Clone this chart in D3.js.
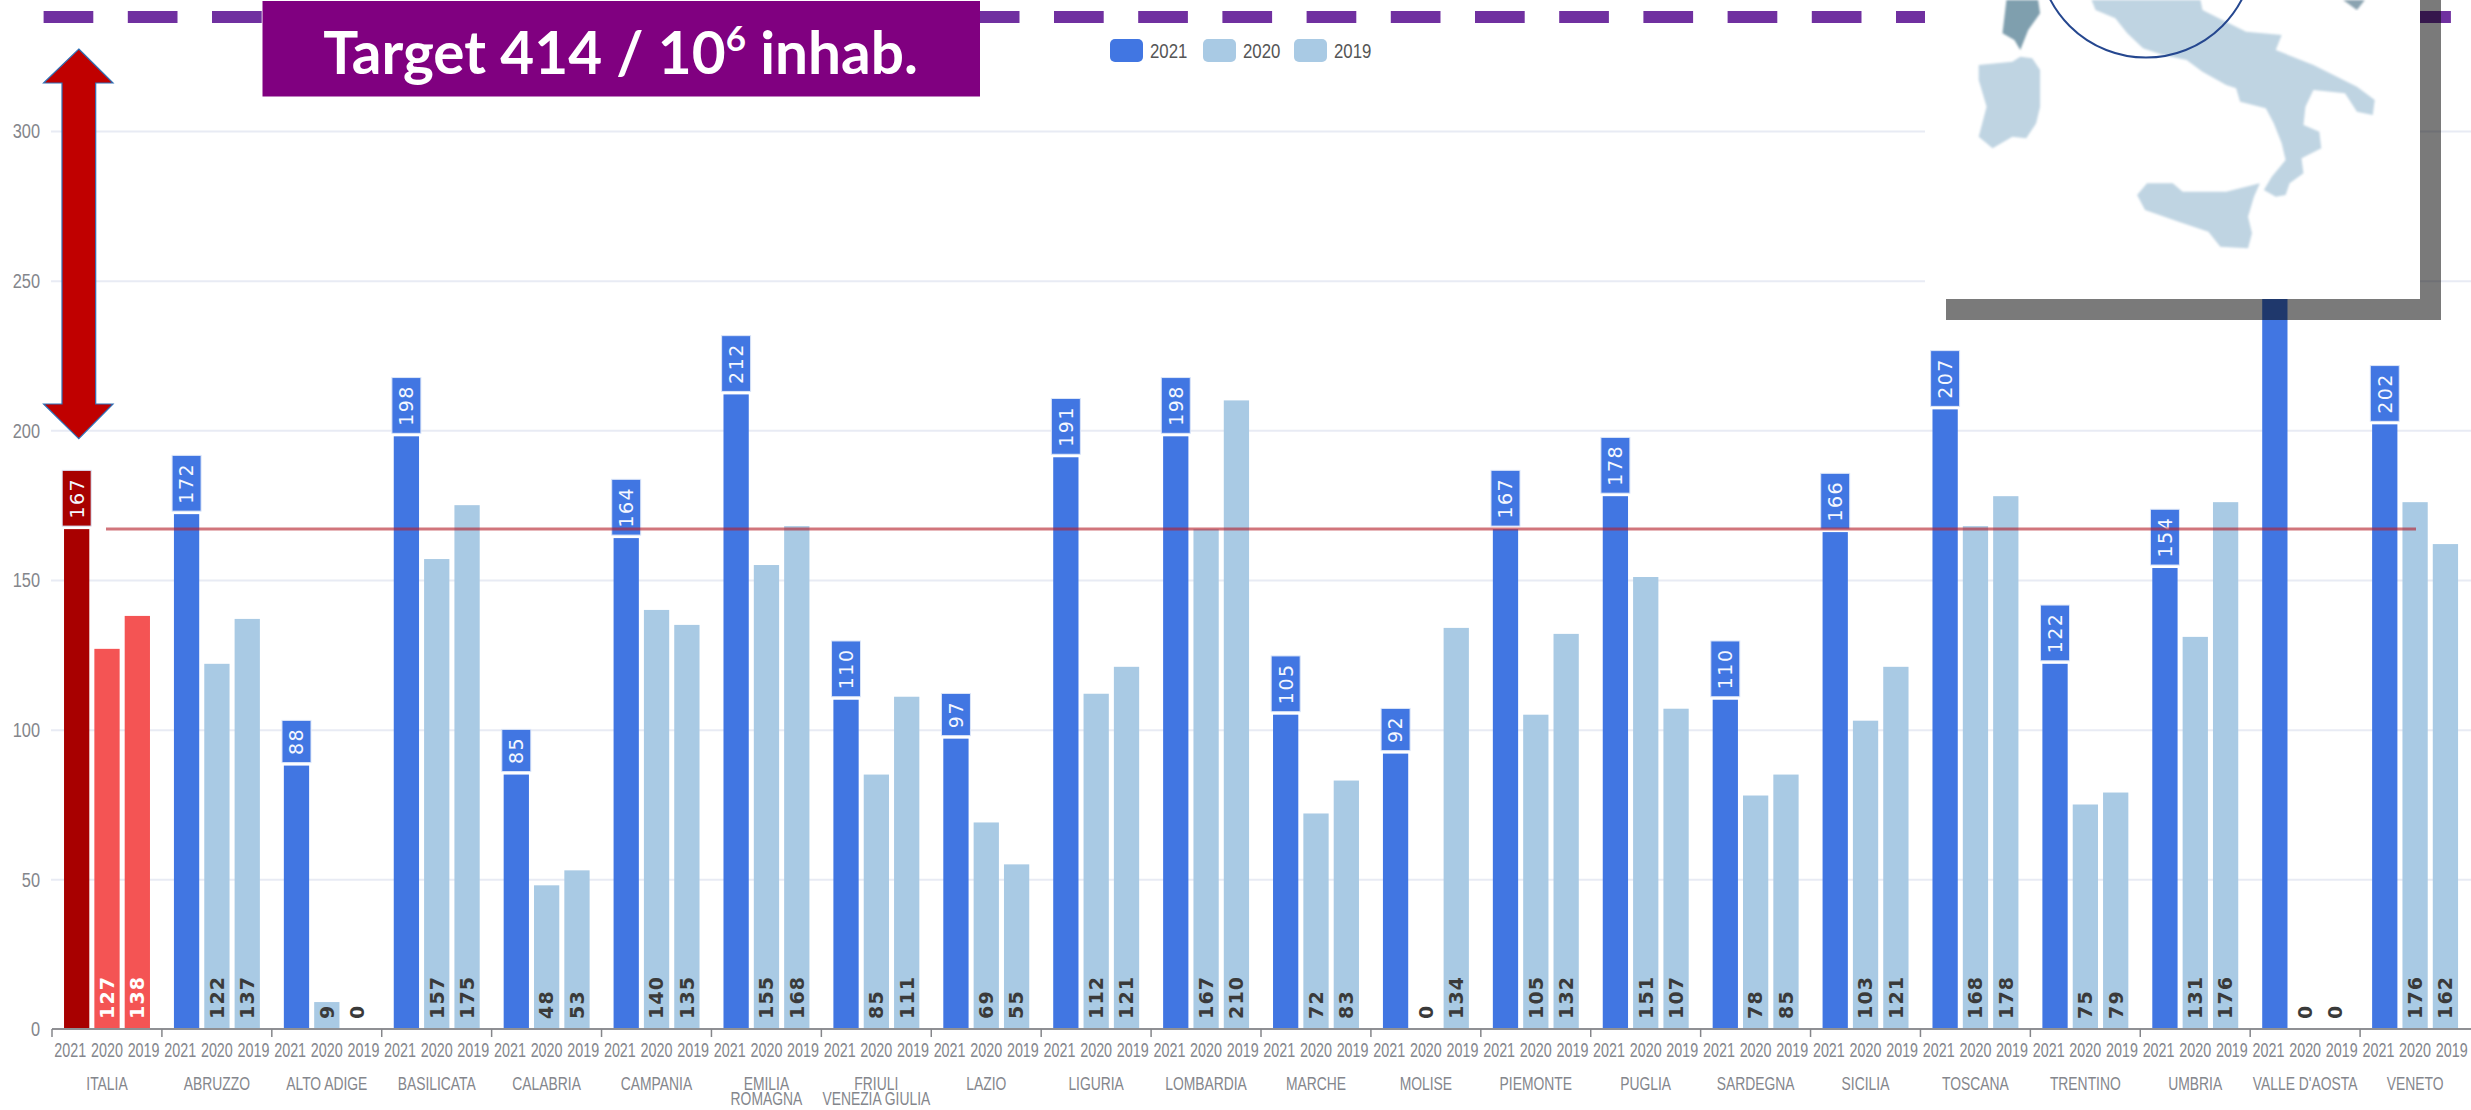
<!DOCTYPE html>
<html><head><meta charset="utf-8">
<script src="https://cdnjs.cloudflare.com/ajax/libs/d3/7.8.5/d3.min.js"></script>
<style>html,body{margin:0;padding:0;background:#fff;overflow:hidden}svg{display:block}</style>
</head><body><svg id="c" width="2471" height="1110"></svg>
<script>
const regions = ["ITALIA","ABRUZZO","ALTO ADIGE","BASILICATA","CALABRIA","CAMPANIA","EMILIA\nROMAGNA","FRIULI\nVENEZIA GIULIA","LAZIO","LIGURIA","LOMBARDIA","MARCHE","MOLISE","PIEMONTE","PUGLIA","SARDEGNA","SICILIA","TOSCANA","TRENTINO","UMBRIA","VALLE D'AOSTA","VENETO"];
const years = ["2021","2020","2019"];
const values2021 = [167,172,88,198,85,164,212,110,97,191,198,105,92,167,178,110,166,207,122,154,260,202];
const values2020 = [127,122,9,157,48,140,155,85,69,112,167,72,0,105,151,78,103,168,75,131,0,176];
const values2019 = [138,137,0,175,53,135,168,111,55,121,210,83,134,132,107,85,121,178,79,176,0,162];
const yTicks = [0,50,100,150,200,250,300];
const italyMean = 167;
const targetLabel = "Target 414 / 10";

// Inset map outlines, in the inset's own picture units
const peninsula = [[610,0],[620,30],[670,55],[700,100],[740,145],[790,165],[850,180],[890,215],[950,255],[975,265],[985,305],[1050,325],[1070,370],[1090,430],[1100,480],[1065,530],[1045,570],[1075,590],[1100,585],[1110,550],[1145,520],[1140,475],[1190,445],[1185,395],[1145,375],[1150,320],[1170,270],[1250,280],[1280,335],[1320,345],[1325,300],[1280,260],[1170,195],[1075,150],[1090,105],[1000,95],[940,60],[890,30],[885,0]];
const sicily = [[725,585],[750,550],[815,550],[840,575],[950,575],[1035,550],[1020,590],[1005,650],[1015,700],[1005,745],[935,740],[905,695],[830,665],[745,630]];
const sardinia = [[325,195],[410,185],[430,170],[460,175],[480,210],[480,320],[470,370],[445,415],[410,410],[360,445],[325,410],[345,320],[325,240]];
const corsica = [[395,0],[475,0],[480,40],[450,90],[430,150],[415,120],[385,100],[390,50]];
const islet = [[1245,0],[1300,0],[1280,30]];

const svg = d3.select("#c");
const axisFont = "'Liberation Sans',sans-serif";
const grey = "#84868c";

const y = d3.scaleLinear().domain([0,300]).range([1029,131]);
const xGroup = d3.scaleBand().domain(regions).range([52,2470]);
const xBar = d3.scaleBand().domain(years).range([9.5,100.5]).paddingInner(1/6).paddingOuter(1/12);
const xTick = d3.scaleBand().domain(regions.flatMap(r=>years.map(t=>r+"|"+t))).range([52,2470]);
const seriesVals = {"2021":values2021,"2020":values2020,"2019":values2019};
const rows = regions.flatMap((r,i)=>years.map(t=>({r,t,i,v:seriesVals[t][i]})));
const barFill = d => d.i===0 ? (d.t==="2021"?"#a80000":"#f45454") : (d.t==="2021"?"#4176e2":"#a9cae4");

// grid
const yAxis = d3.axisLeft(y).tickValues(yTicks).tickSize(0).tickPadding(0);
const gy = svg.append("g").attr("transform","translate(52,0)").call(yAxis);
gy.select(".domain").remove();
gy.selectAll("text").attr("font-family",axisFont).attr("font-size",21).attr("fill",grey)
  .attr("x",0).attr("transform","translate(-12,0) scale(.78,1)");
gy.selectAll(".tick").filter(d=>d>0).append("line").attr("x1",-1).attr("x2",2419).attr("stroke","#e8ebf4").attr("stroke-width",2);

// bars
const barX = d => xGroup(d.r)+xBar(d.t);
svg.append("g").selectAll("rect").data(rows.filter(d=>d.v>0)).join("rect")
  .attr("x",barX).attr("width",xBar.bandwidth())
  .attr("y",d=>y(d.v)).attr("height",d=>y(0)-y(d.v))
  .attr("fill",barFill);

// axes
const ax = svg.append("g").attr("transform","translate(0,1029)");
ax.append("line").attr("x1",52).attr("x2",2471).attr("stroke","#8f9094").attr("stroke-width",2);
ax.selectAll("line.b").data(regions).join("line").attr("class","b")
  .attr("x1",d=>xGroup(d)).attr("x2",d=>xGroup(d)).attr("y1",0).attr("y2",8)
  .attr("stroke","#85868a").attr("stroke-width",1.5);
const axT = d3.axisBottom(xTick).tickSize(0).tickPadding(13).tickFormat(d=>d.split("|")[1]);
const gT = svg.append("g").attr("transform","translate(0,1029)").call(axT);
gT.select(".domain").remove();
gT.selectAll("text").attr("font-family",axisFont).attr("font-size",20.5).attr("fill",grey).attr("transform","scale(.7,1)");
const axG = d3.axisBottom(xGroup).tickSize(0).tickFormat("");
const gG = svg.append("g").attr("transform","translate(0,1029)").call(axG);
gG.select(".domain").remove();
gG.selectAll(".tick").each(function(d){
  const t = d3.select(this).select("text").attr("font-family",axisFont).attr("font-size",19).attr("fill",grey)
    .attr("y",0).attr("dy",null).attr("transform","scale(.73,1)");
  d.split("\n").forEach((s,i)=>t.append("tspan").attr("x",0).attr("y",61+i*15.5).text(s));
});

// value labels
const lab = "'DejaVu Sans',sans-serif";
const boxLabels = svg.append("g").selectAll("g").data(rows.filter(d=>d.t==="2021")).join("g")
  .attr("transform",d=>`translate(${barX(d)+xBar.bandwidth()/2},${y(d.v)})`);
boxLabels.each(function(d){
  const g = d3.select(this);
  const r = g.append("rect").attr("x",-14.5).attr("width",29).attr("fill",barFill(d)).attr("stroke","#dce6f8").attr("stroke-width",1);
  const t = g.append("text").text(d.v).attr("font-family",lab).attr("font-size",19).attr("letter-spacing",1.5)
    .attr("fill","#f4f7ff").attr("text-anchor","middle").attr("dy","0.36em");
  const h = t.node().getComputedTextLength()+15;
  r.attr("y",-3-h).attr("height",h);
  t.attr("transform",`translate(0,${-3-h/2}) rotate(-90)`);
});
svg.append("g").selectAll("text").data(rows.filter(d=>d.t!=="2021")).join("text")
  .text(d=>d.v).attr("font-family",lab).attr("font-size",19).attr("font-weight","bold").attr("letter-spacing",1.2)
  .attr("fill",d=>d.i===0?"#fff":"#3a3a3a").attr("dy","0.36em")
  .attr("transform",d=>`translate(${barX(d)+xBar.bandwidth()/2},${y(0)-10}) rotate(-90)`);

// Italy mean line
svg.append("line").attr("x1",106).attr("x2",2416).attr("y1",y(italyMean)).attr("y2",y(italyMean))
  .attr("stroke","#b4202c").attr("stroke-opacity",.62).attr("stroke-width",3);

// legend
const legendX = {"2021":1110,"2020":1203,"2019":1294};
const lg = svg.append("g").selectAll("g").data(years).join("g").attr("transform",d=>`translate(${legendX[d]},39)`);
lg.append("rect").attr("width",33).attr("height",23).attr("rx",5).attr("fill",d=>d==="2021"?"#4176e2":"#a9cae4");
lg.append("text").text(d=>d).attr("font-family",axisFont).attr("font-size",21).attr("fill","#555")
  .attr("transform","translate(40,19) scale(.8,1)");

// target dashes
svg.append("line").attr("x1",43.6).attr("x2",2451).attr("y1",17).attr("y2",17)
  .attr("stroke","#7030a0").attr("stroke-width",12).attr("stroke-dasharray","49.7 34.5");

// target box
svg.append("rect").attr("x",262.5).attr("y",1).attr("width",717.5).attr("height",95.5).attr("fill","#800080");
const tt = svg.append("text").attr("x",620.5).attr("y",74).attr("text-anchor","middle").attr("fill","#fff")
  .attr("font-family","Lato,'Open Sans',sans-serif").attr("font-weight","bold").attr("font-size",58.5);
tt.append("tspan").text(targetLabel);
tt.append("tspan").text("6").attr("font-size",35).attr("dy",-23);
tt.append("tspan").text(" inhab.").attr("dy",23);

// double arrow
svg.append("path").attr("d","M78.8,49 L113,83 L95.7,83 L95.7,404 L113,404 L78.8,438.6 L43.6,404 L62,404 L62,83 L43.6,83 Z")
  .attr("fill","#c00000").attr("stroke","#2f6fb5").attr("stroke-width",1.2);

// inset map
svg.append("rect").attr("x",1946).attr("y",0).attr("width",495).attr("height",320).attr("fill","#000").attr("fill-opacity",.52);
svg.append("rect").attr("x",1925).attr("y",0).attr("width",495).attr("height",299).attr("fill","#fff");
svg.append("defs").append("filter").attr("id","soft").append("feGaussianBlur").attr("stdDeviation",1);
const mx = d3.scaleLinear().domain([0,621*2.525]).range([1850,2471]);
const my = d3.scaleLinear().domain([0,1260]).range([0,420]);
const outline = d3.line().x(p=>mx(p[0])).y(p=>my(p[1])).curve(d3.curveLinearClosed);
[[peninsula,"#bfd4e2"],[sicily,"#bfd4e2"],[sardinia,"#bfd4e2"],[corsica,"#7f9fae"],[islet,"#8aa3b0"]].forEach(([p,c])=>{
  svg.append("path").attr("d",outline(p)).attr("fill",c).attr("filter","url(#soft)");
});
svg.append("circle").attr("cx",2146).attr("cy",-50.4).attr("r",108).attr("fill","none").attr("stroke","#25478f").attr("stroke-width",2);
</script></body></html>
